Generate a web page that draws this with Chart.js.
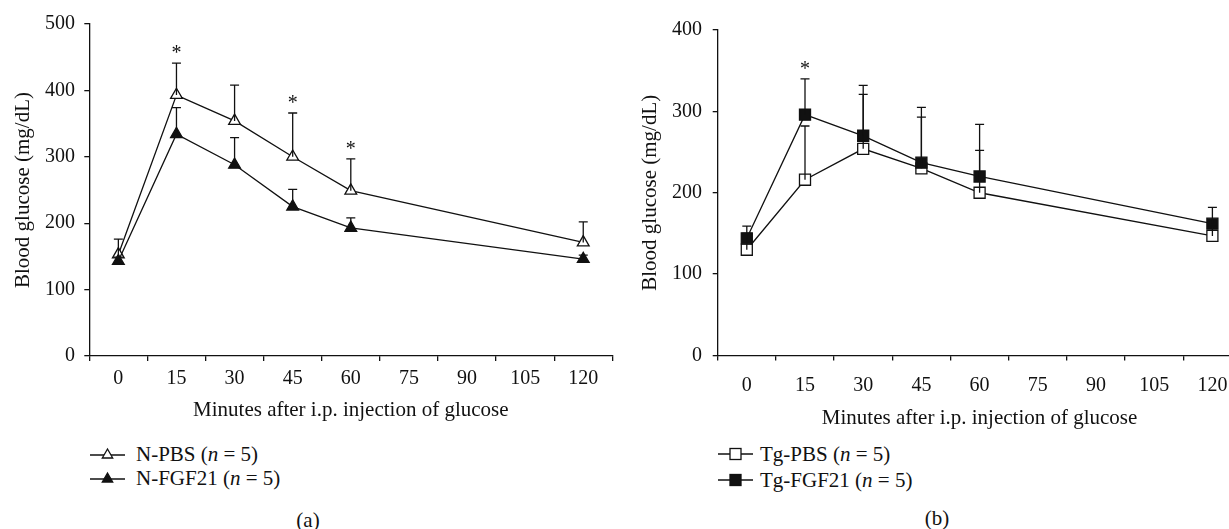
<!DOCTYPE html>
<html>
<head>
<meta charset="utf-8">
<script src="https://cdn.jsdelivr.net/npm/chart.js@4.4.1/dist/chart.umd.min.js"></script>
<style>
  body { margin: 0; width: 1229px; height: 529px; overflow: hidden; position: relative; background: #fff;
         font-family: 'Liberation Serif', 'DejaVu Serif', serif; color: #111; }
  canvas { position: absolute; top: 0; }
  .legend { position: absolute; font-size: 21px; }
  .legend div { display: flex; align-items: center; white-space: nowrap; }
  .legend svg { margin-right: 11px; }
  .caption { position: absolute; font-size: 21px; line-height: 24px; transform: translateX(-50%); }
</style>
</head>
<body>
<canvas id="chartA" width="625" height="440" style="left:0"></canvas>
<canvas id="chartB" width="640" height="440" style="left:620px"></canvas>

<div class="legend" style="left:90px; top:442px; line-height:24px">
  <div><svg width="35" height="14"><line x1="0" y1="8" x2="35" y2="8" stroke="#111" stroke-width="1.3"/><polygon points="17.5,2 22.7,11 12.3,11" fill="#fff" stroke="#111" stroke-width="1.3"/></svg>N-PBS (<i>n</i>&nbsp;=&nbsp;5)</div>
  <div><svg width="35" height="14"><line x1="0" y1="8" x2="35" y2="8" stroke="#111" stroke-width="1.3"/><polygon points="17.5,2 22.7,11 12.3,11" fill="#111" stroke="#111" stroke-width="1.3"/></svg>N-FGF21 (<i>n</i>&nbsp;=&nbsp;5)</div>
</div>
<div class="legend" style="left:718px; top:441px; line-height:26px">
  <div><svg width="35" height="14" style="margin-right:7px"><line x1="0" y1="7" x2="35" y2="7" stroke="#111" stroke-width="1.3"/><rect x="12" y="1.5" width="11" height="11" fill="#fff" stroke="#111" stroke-width="1.3"/></svg>Tg-PBS (<i>n</i>&nbsp;=&nbsp;5)</div>
  <div><svg width="35" height="14" style="margin-right:7px"><line x1="0" y1="7" x2="35" y2="7" stroke="#111" stroke-width="1.3"/><rect x="12" y="1.5" width="11" height="11" fill="#111" stroke="#111" stroke-width="1.3"/></svg>Tg-FGF21 (<i>n</i>&nbsp;=&nbsp;5)</div>
</div>
<div class="caption" style="left:308px; top:508px">(a)</div>
<div class="caption" style="left:937px; top:506px">(b)</div>

<script>
const minutes = ['0', '15', '30', '45', '60', '75', '90', '105', '120'];

// panel (a): normal mice, mean and upper SD
const nPbsMean = [153, 393, 354, 300, 249, null, null, null, 171];
const nPbsSd   = [23, 48, 54, 66, 48, null, null, null, 31];
const nFgfMean = [143, 334, 288, 225, 193, null, null, null, 146];
const nFgfSd   = [6, 40, 41, 26, 15, null, null, null, 6];
const nStars   = [false, true, false, true, true, false, false, false, false];
const yTicksA  = [0, 100, 200, 300, 400, 500];

// panel (b): transgenic mice
const tgPbsMean = [130, 216, 254, 230, 200, null, null, null, 147];
const tgPbsSd   = [20, 66, 67, 63, 52, null, null, null, 12];
const tgFgfMean = [144, 296, 270, 237, 220, null, null, null, 162];
const tgFgfSd   = [15, 44, 62, 68, 64, null, null, null, 20];
const tgStars   = [false, true, false, false, false, false, false, false, false];
const yTicksB   = [0, 100, 200, 300, 400];

const ink = '#111';
Chart.defaults.font.family = "'Liberation Serif', 'DejaVu Serif', serif";
Chart.defaults.color = ink;

// upward error bars + significance stars
const errorBars = {
  id: 'errorBars',
  afterDatasetsDraw(chart, args, opts) {
    const { ctx, scales: { x, y } } = chart;
    const tops = [];
    ctx.save();
    ctx.strokeStyle = ink;
    ctx.lineWidth = 1.3;
    chart.data.datasets.forEach(ds => {
      ds.sd.forEach((sd, i) => {
        const m = ds.data[i];
        if (m == null) return;
        const px = x.getPixelForValue(i);
        const y0 = y.getPixelForValue(m);
        const y1 = y.getPixelForValue(m + sd);
        tops[i] = Math.min(tops[i] ?? Infinity, y1);
        ctx.beginPath();
        ctx.moveTo(px, y0);
        ctx.lineTo(px, y1);
        ctx.moveTo(px - 4.5, y1);
        ctx.lineTo(px + 4.5, y1);
        ctx.stroke();
      });
    });
    ctx.fillStyle = ink;
    ctx.font = "20px 'Liberation Serif', serif";
    ctx.textAlign = 'center';
    ctx.textBaseline = 'middle';
    (opts.stars || []).forEach((s, i) => {
      if (s) ctx.fillText('*', x.getPixelForValue(i), tops[i] - 12 + 3);
    });
    ctx.restore();
  }
};

const makeDataset = (label, data, sd, style, radius, filled) => ({
  label: label,
  data: data,
  sd: sd,
  borderColor: ink,
  borderWidth: 1.3,
  pointStyle: style,
  pointRadius: radius,
  pointHoverRadius: radius,
  pointBackgroundColor: filled ? ink : '#fff',
  pointBorderColor: ink,
  pointBorderWidth: 1.3,
  spanGaps: true,
  tension: 0,
  order: filled ? 0 : 1,
});

const makeChart = (el, datasets, yTicks, stars, g) => {
  return new Chart(document.getElementById(el), {
    type: 'line',
    data: { labels: minutes, datasets: datasets },
    plugins: [errorBars],
    options: {
      responsive: false,
      animation: false,
      layout: { padding: { top: g.top, right: g.right, left: 0, bottom: 0 } },
      plugins: {
        legend: { display: false },
        tooltip: { enabled: false },
        errorBars: { stars: stars },
      },
      scales: {
        x: {
          type: 'category',
          offset: true,
          grid: { offset: true, drawOnChartArea: false, drawTicks: true, tickLength: 5, color: ink, lineWidth: 1.3 },
          border: { display: true, color: ink, width: 1.3 },
          ticks: { font: { size: 20 }, color: ink, padding: g.xPad, autoSkip: false, maxRotation: 0 },
          title: {
            display: true,
            text: 'Minutes after i.p. injection of glucose',
            font: { size: 21 },
            color: ink,
            padding: { top: 0, bottom: g.xTitlePad },
          },
          afterFit: (scale) => { scale.height = 440 - g.bottom; },
        },
        y: {
          min: yTicks[0],
          max: yTicks[yTicks.length - 1],
          grid: { drawOnChartArea: false, drawTicks: true, tickLength: 5, color: ink, lineWidth: 1.3 },
          border: { display: true, color: ink, width: 1.3 },
          ticks: { stepSize: yTicks[1] - yTicks[0], font: { size: 20 }, color: ink, padding: g.yPad },
          title: {
            display: true,
            text: 'Blood glucose (mg/dL)',
            font: { size: 21 },
            color: ink,
            padding: { top: g.yTitlePad, bottom: 0 },
          },
          afterFit: (scale) => { scale.width = g.left; },
        },
      },
    },
  });
};

makeChart('chartA', [
  makeDataset('N-PBS (n = 5)', nPbsMean, nPbsSd, 'triangle', 6.8, false),
  makeDataset('N-FGF21 (n = 5)', nFgfMean, nFgfSd, 'triangle', 6.8, true),
], yTicksA, nStars, { top: 24, bottom: 356, left: 89.3, right: 12.7, xPad: 5.8, yPad: 9.3, xTitlePad: 17.4, yTitlePad: 10.4 });

makeChart('chartB', [
  makeDataset('Tg-PBS (n = 5)', tgPbsMean, tgPbsSd, 'rect', 7.8, false),
  makeDataset('Tg-FGF21 (n = 5)', tgFgfMean, tgFgfSd, 'rect', 7.8, true),
], yTicksB, tgStars, { top: 30, bottom: 355.5, left: 97.7, right: 18.5, xPad: 13.3, yPad: 10.7, xTitlePad: 9.4, yTitlePad: 17.4 });
</script>
</body>
</html>
